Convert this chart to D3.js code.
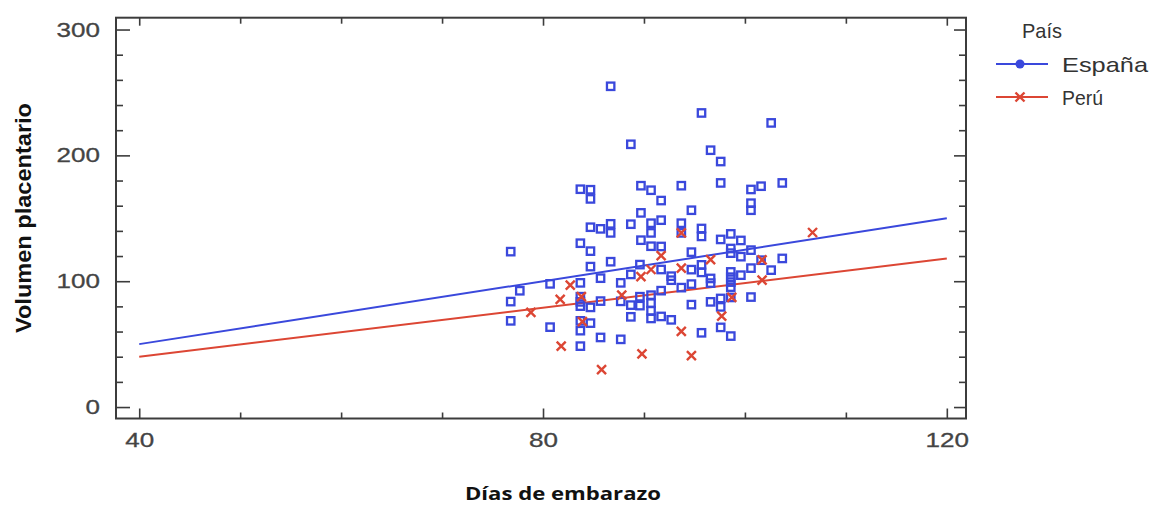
<!DOCTYPE html>
<html>
<head>
<meta charset="utf-8">
<script src="https://cdn.jsdelivr.net/npm/d3@7"></script>
<style>
  html, body { margin: 0; padding: 0; background: #fff; }
  svg { display: block; }
</style>
</head>
<body>
<svg id="chart" width="1154" height="507"></svg>
<script>
// Días de embarazo vs. volumen placentario, por país
const diasEspana = [
  86.7,95.7,102.6,88.7,96.6,97.6,83.7,84.7,84.7,89.7,
  90.7,91.7,93.7,97.6,100.6,101.6,103.7,100.6,100.6,94.7,
  89.7,76.8,84.7,85.7,86.7,86.7,88.7,90.7,90.7,91.7,
  93.7,93.7,95.7,95.7,83.7,84.7,89.7,90.7,91.7,97.6,
  98.6,99.6,94.7,98.6,98.6,100.6,99.6,103.7,101.6,86.7,
  84.7,85.7,88.7,89.6,83.7,87.7,80.7,77.7,76.8,91.7,
  94.7,95.7,95.7,92.7,92.7,96.6,96.6,93.7,94.7,91.7,
  98.6,98.6,98.6,98.6,99.6,100.6,102.6,83.7,83.7,83.7,
  84.7,85.7,87.7,88.7,89.6,89.6,90.7,90.7,90.7,90.7,
  91.7,92.7,88.7,94.7,96.6,97.6,97.6,98.6,100.6,76.8,
  80.7,83.7,84.7,83.7,85.7,87.7,83.7,97.6,95.7,98.6
];
const volumenEspana = [
  254.9,233.7,225.8,208.8,204.1,195.1,173.1,172.7,165.4,175.9,
  172.3,164.1,175.9,178.1,172.9,175.5,178.1,162.0,156.4,156.4,
  154.3,123.5,142.9,141.6,145.6,138.4,145.3,146.1,138.4,148.5,
  146.1,138.4,141.9,135.6,130.2,123.9,132.6,127.8,127.6,133.2,
  137.6,132.4,123.1,126.0,122.3,124.7,119.5,118.1,116.7,115.5,
  111.6,102.4,105.4,113.2,98.7,98.7,97.9,92.4,83.8,109.3,
  109.2,113.0,107.0,104.0,100.8,102.2,98.5,94.9,97.7,92.5,
  107.4,103.2,99.3,95.3,104.8,110.4,108.8,87.7,83.6,80.2,
  79.2,84.2,84.0,81.0,80.6,87.7,88.9,82.6,76.5,70.4,
  72.0,69.3,71.7,81.4,83.6,86.3,79.6,87.1,87.4,68.5,
  63.5,68.5,66.7,60.7,55.3,53.8,48.4,63.3,59.0,56.4
];
const diasPeru = [
  78.8,81.7,82.7,83.8,83.9,81.8,85.8,87.8,89.7,90.7,89.8,
  91.7,93.7,93.7,96.6,101.7,98.7,97.7,93.7,94.7,101.7,106.7
];
const volumenPeru = [
  75.2,85.5,96.9,87.7,67.9,48.4,29.8,88.9,103.6,109.3,42.3,
  120.3,138.4,110.4,117.1,117.0,87.1,72.3,60.1,40.9,100.8,138.7
];

// Rectas de regresión (extremos en 40 y 120 días)
const ajusteDias = [40, 120];
const ajusteEspana = [50, 150];
const ajustePeru = [40, 118];

const xMajor = [40, 80, 120];
const xMinor = [50, 60, 70, 90, 100, 110];
const yMajor = [0, 100, 200, 300];
const yMinor = [20, 40, 60, 80, 120, 140, 160, 180, 220, 240, 260, 280];

const paises = ["España", "Perú"];
const tituloLeyenda = "País";
const tituloX = "Días de embarazo";
const tituloY = "Volumen placentario";

const azul = "#3a48dc";
const rojo = "#dc4634";
const ejeColor = "#3c3c3c";

const frame = { left: 116, right: 966, top: 17.7, bottom: 418.5 };

const x = d3.scaleLinear().domain([37.7, 121.9]).range([frame.left, frame.right]);
const y = d3.scaleLinear().domain([-9.1, 309.4]).range([frame.bottom, frame.top]);

const svg = d3.select("#chart");

// Estira el texto horizontalmente
function stretch(sel, factor) {
  sel.each(function () {
    const len = this.getComputedTextLength();
    d3.select(this).attr("textLength", len * factor).attr("lengthAdjust", "spacingAndGlyphs");
  });
}

function styleAxis(g) {
  g.select(".domain").remove();
  g.selectAll(".tick line").attr("stroke", ejeColor).attr("stroke-width", 1.6);
}

// Ejes: marcas menores y mayores en los cuatro lados, hacia dentro
const bottomMinor = svg.append("g").attr("transform", `translate(0,${frame.bottom})`)
  .call(d3.axisBottom(x).tickValues(xMinor).tickSize(-6).tickFormat(""));
styleAxis(bottomMinor);
const bottomMajor = svg.append("g").attr("transform", `translate(0,${frame.bottom})`)
  .call(d3.axisBottom(x).tickValues(xMajor).tickSize(-10).tickPadding(14).tickFormat(d3.format("d")));
styleAxis(bottomMajor);

const topMinor = svg.append("g").attr("transform", `translate(0,${frame.top})`)
  .call(d3.axisTop(x).tickValues(xMinor).tickSize(-6).tickFormat(""));
styleAxis(topMinor);
const topMajor = svg.append("g").attr("transform", `translate(0,${frame.top})`)
  .call(d3.axisTop(x).tickValues(xMajor).tickSize(-8).tickFormat(""));
styleAxis(topMajor);

const leftMinor = svg.append("g").attr("transform", `translate(${frame.left},0)`)
  .call(d3.axisLeft(y).tickValues(yMinor).tickSize(-7).tickFormat(""));
styleAxis(leftMinor);
const leftMajor = svg.append("g").attr("transform", `translate(${frame.left},0)`)
  .call(d3.axisLeft(y).tickValues(yMajor).tickSize(-14).tickPadding(16).tickFormat(d3.format("d")));
styleAxis(leftMajor);

const rightMinor = svg.append("g").attr("transform", `translate(${frame.right},0)`)
  .call(d3.axisRight(y).tickValues(yMinor).tickSize(-7).tickFormat(""));
styleAxis(rightMinor);
const rightMajor = svg.append("g").attr("transform", `translate(${frame.right},0)`)
  .call(d3.axisRight(y).tickValues(yMajor).tickSize(-12).tickFormat(""));
styleAxis(rightMajor);

[bottomMajor, leftMajor].forEach(g => {
  g.selectAll(".tick text")
    .attr("font-family", "'Liberation Sans', Arial, sans-serif")
    .attr("font-size", 20.5)
    .attr("fill", "#444")
    .attr("stroke", "#444")
    .attr("stroke-width", 0.3);
  stretch(g.selectAll(".tick text"), 1.27);
});

// Marco
svg.append("rect")
  .attr("x", frame.left).attr("y", frame.top)
  .attr("width", frame.right - frame.left).attr("height", frame.bottom - frame.top)
  .attr("fill", "none").attr("stroke", ejeColor).attr("stroke-width", 2);

// Rectas ajustadas
const linea = d3.line().x(d => x(d[0])).y(d => y(d[1]));
svg.append("path")
  .datum(d3.zip(ajusteDias, ajusteEspana))
  .attr("d", linea).attr("fill", "none").attr("stroke", azul).attr("stroke-width", 2);
svg.append("path")
  .datum(d3.zip(ajusteDias, ajustePeru))
  .attr("d", linea).attr("fill", "none").attr("stroke", rojo).attr("stroke-width", 2);

// Puntos de España: cuadrados huecos
const s = 3.7;
svg.append("g").selectAll("rect")
  .data(d3.zip(diasEspana, volumenEspana))
  .join("rect")
  .attr("x", d => x(d[0]) - s).attr("y", d => y(d[1]) - s)
  .attr("width", 2 * s).attr("height", 2 * s)
  .attr("fill", "none").attr("stroke", azul).attr("stroke-width", 2.3);

// Puntos de Perú: aspas
const k = 4.5;
const aspa = d => `M${x(d[0]) - k},${y(d[1]) - k}L${x(d[0]) + k},${y(d[1]) + k}M${x(d[0]) - k},${y(d[1]) + k}L${x(d[0]) + k},${y(d[1]) - k}`;
svg.append("g").selectAll("path")
  .data(d3.zip(diasPeru, volumenPeru))
  .join("path")
  .attr("d", aspa)
  .attr("fill", "none").attr("stroke", rojo).attr("stroke-width", 2.4);

// Títulos de los ejes
svg.append("text")
  .attr("x", 563).attr("y", 500)
  .attr("text-anchor", "middle")
  .attr("font-family", "'Open Sans', 'Noto Sans', sans-serif")
  .attr("font-weight", "bold")
  .attr("font-size", 18.5)
  .attr("fill", "#111")
  .attr("textLength", 196).attr("lengthAdjust", "spacingAndGlyphs")
  .text(tituloX);

svg.append("text")
  .attr("transform", "translate(31,218) rotate(-90)")
  .attr("text-anchor", "middle")
  .attr("font-family", "'Liberation Sans', Arial, sans-serif")
  .attr("font-weight", "bold")
  .attr("font-size", 22)
  .attr("fill", "#111")
  .attr("textLength", 230).attr("lengthAdjust", "spacingAndGlyphs")
  .text(tituloY);

// Leyenda
const leyenda = svg.append("g")
  .attr("font-family", "'Liberation Sans', Arial, sans-serif")
  .attr("font-size", 21)
  .attr("fill", "#333");
leyenda.append("text").attr("x", 1022).attr("y", 37.5)
  .attr("textLength", 40).attr("lengthAdjust", "spacingAndGlyphs")
  .text(tituloLeyenda);

const filas = [
  { nombre: paises[0], color: azul, yc: 64, ancho: 86 },
  { nombre: paises[1], color: rojo, yc: 97, ancho: 41 }
];
filas.forEach((f, i) => {
  leyenda.append("line")
    .attr("x1", 996).attr("x2", 1048).attr("y1", f.yc).attr("y2", f.yc)
    .attr("stroke", f.color).attr("stroke-width", 2);
  if (i === 0) {
    leyenda.append("circle").attr("cx", 1020).attr("cy", f.yc).attr("r", 4.5).attr("fill", f.color);
  } else {
    const m = 4.5;
    leyenda.append("path")
      .attr("d", `M${1020 - m},${f.yc - m}L${1020 + m},${f.yc + m}M${1020 - m},${f.yc + m}L${1020 + m},${f.yc - m}`)
      .attr("stroke", f.color).attr("stroke-width", 2.4).attr("fill", "none");
  }
  leyenda.append("text").attr("x", 1062).attr("y", f.yc + 7.5)
    .attr("textLength", f.ancho).attr("lengthAdjust", "spacingAndGlyphs")
    .text(f.nombre);
});
</script>
</body>
</html>
